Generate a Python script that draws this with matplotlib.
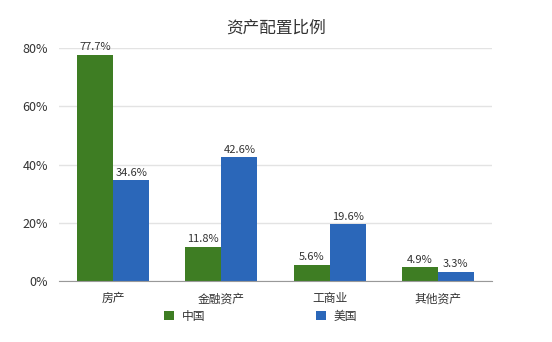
import matplotlib
matplotlib.use("Agg")
import matplotlib.pyplot as plt
import numpy as np

plt.rcParams['font.family'] = ['Noto Sans CJK SC', 'DejaVu Sans']

categories = ['房产', '金融资产', '工商业', '其他资产']
china = [77.7, 11.8, 5.6, 4.9]
usa = [34.6, 42.6, 19.6, 3.3]
series_names = ['中国', '美国']
yticks = [0, 20, 40, 60, 80]

green = '#3e7d23'
blue = '#2b67b9'

fig = plt.figure(figsize=(5.52, 3.42), dpi=100)
ax = fig.add_axes([0.107, 0.178, 0.784, 0.682])

x = np.arange(len(categories))
w = 0.333
b1 = ax.bar(x - w/2, china, w, color=green, label=series_names[0], zorder=3)
b2 = ax.bar(x + w/2, usa, w, color=blue, label=series_names[1], zorder=3)

for bars, vals in ((b1, china), (b2, usa)):
    for rect, v in zip(bars, vals):
        ax.text(rect.get_x() + rect.get_width()/2, v + 0.8, f'{v}%',
                ha='center', va='bottom', fontsize=8, color='#333333', zorder=4)

ax.set_xlim(-0.5, 3.5)
ax.set_ylim(0, 80)
ax.set_yticks(yticks)
ax.set_yticklabels([f'{t}%' for t in yticks], fontsize=9, color='#333333')
ax.set_xticks(x)
ax.set_xticklabels(categories, fontsize=8.5, color='#333333')
ax.tick_params(axis='both', length=0, pad=8)
ax.grid(axis='y', color='#e3e3e3', linewidth=1, zorder=0)
for s in ['top', 'right', 'left']:
    ax.spines[s].set_visible(False)
ax.spines['bottom'].set_color('#999999')
ax.spines['bottom'].set_zorder(5)

fig.text(0.5, 0.918, '资产配置比例', ha='center', va='center', fontsize=12, color='#333333')

leg = fig.legend(handles=[b1, b2], labels=series_names, loc='center',
                 bbox_to_anchor=(0.472, 0.075), ncol=2, frameon=False,
                 fontsize=8.5, columnspacing=9.4, handlelength=0.85, handleheight=0.85,
                 handletextpad=0.6)
for t in leg.get_texts():
    t.set_color('#333333')

fig.savefig('out.png', dpi=100)
